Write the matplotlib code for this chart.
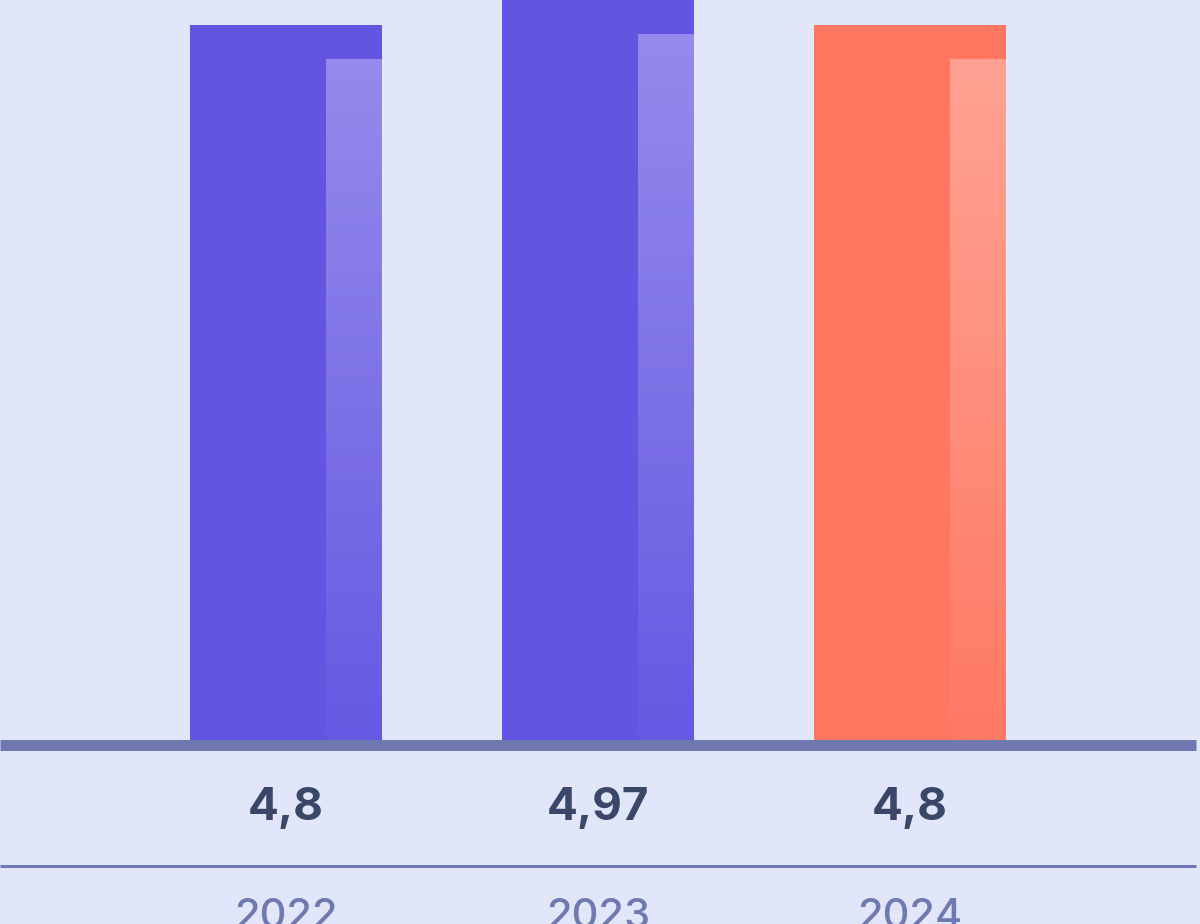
import numpy as np
import matplotlib.pyplot as plt

# Datos
years = ['2022', '2023', '2024']
values = [4.8, 4.97, 4.8]
labels = ['4,8', '4,97', '4,8']
colors = ['#6355e2', '#6355e2', '#ff7761']

bg = '#e1e6fa'
axis_col = '#6f78b0'
text_col = '#3a4768'
year_col = '#6f7ab0'

fig = plt.figure(figsize=(12, 9.24), dpi=100)
fig.patch.set_facecolor(bg)
ax = fig.add_axes([0, 0, 1, 1])
ax.set_facecolor(bg)
ax.set_xlim(-0.917, 2.929)
ax.set_ylim(-1.193, 4.967)
ax.axis('off')

x = np.arange(len(years))
ax.bar(x, values, width=0.615, color=colors, zorder=2)

# Franja clara con degradado en el lado derecho de cada barra
grad = np.linspace(0.32, 0.02, 256).reshape(-1, 1)
for xi, v, c in zip(x, values, colors):
    rgba = np.zeros((256, 1, 4))
    rgba[..., :3] = 1.0
    rgba[..., 3] = grad
    ax.imshow(rgba, extent=(xi + 0.128, xi + 0.308, 0, v - 0.233),
              aspect='auto', zorder=3, interpolation='bilinear')

# Lineas
ax.hlines(0, -0.917, 2.917, color=axis_col, lw=7.9, zorder=4)
ax.hlines(-0.807, -0.917, 2.917, color=axis_col, lw=2.2, zorder=4)

for xi, lab, yr in zip(x, labels, years):
    ax.text(xi, -0.42, lab, ha='center', va='center', fontsize=33,
            fontweight='bold', color=text_col, family='Inter')
    ax.text(xi, -1.145, yr, ha='center', va='center', fontsize=30,
            fontweight='medium', color=year_col, family='Inter')

fig.savefig('out.png', dpi=100, facecolor=bg)
